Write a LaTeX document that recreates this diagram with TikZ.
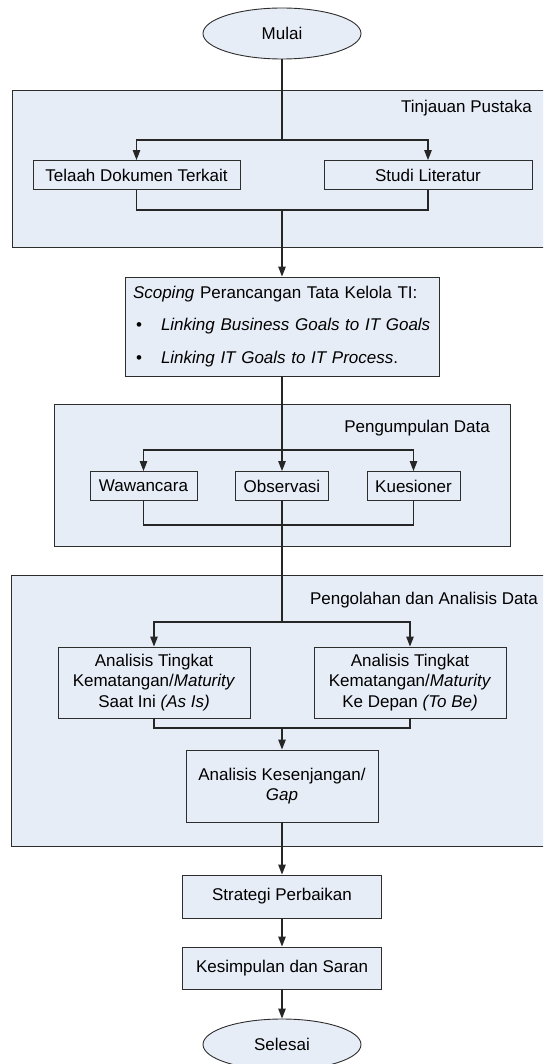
\documentclass[tikz,border=0pt]{standalone}
\usepackage{fontspec}
\setmainfont{Liberation Sans}
\usetikzlibrary{shapes.geometric,arrows.meta}

\definecolor{boxfill}{RGB}{231,237,247}
\definecolor{boxline}{RGB}{45,45,45}

\tikzset{
  basefont/.style={font=\fontsize{17}{20.5}\selectfont},
  groupbox/.style={draw=boxline, fill=boxfill, line width=0.9pt, anchor=north west, inner sep=0pt},
  grouplabel/.style={basefont, anchor=east, inner sep=0pt},
  stepbox/.style={draw=boxline, fill=boxfill, line width=0.9pt, basefont, align=center, inner sep=2pt},
  terminal/.style={ellipse, draw=boxline, fill=boxfill, line width=0.9pt, basefont,
                   minimum width=158pt, minimum height=51pt, inner sep=0pt},
  conn/.style={draw=black!85, line width=1.1pt},
  connarrow/.style={conn, -{Triangle[length=10pt,width=7.5pt]}},
}

\begin{document}
\begin{tikzpicture}[x=1pt, y=-1pt]
  \useasboundingbox (0,0) rectangle (543,1064);
  \clip (0,0) rectangle (543,1064);

  % phase panels
  \node[groupbox, minimum width=540pt, minimum height=157pt] (tp) at (12,90) {};
  \node[groupbox, minimum width=456pt, minimum height=142pt] (pd) at (54,404) {};
  \node[groupbox, minimum width=547pt, minimum height=271pt] (pa) at (11,575) {};

  \node[grouplabel] (tpLabel) at (532,108) {Tinjauan Pustaka};
  \node[grouplabel] (pdLabel) at (490,428) {Pengumpulan Data};
  \node[grouplabel] (paLabel) at (538,600) {Pengolahan dan Analisis Data};

  % start / end
  \node[terminal] (mulai) at (282,33.5) {Mulai};
  \node[terminal] (selesai) at (282,1044.5) {Selesai};

  % literature review
  \node[stepbox, minimum width=207pt, minimum height=29pt] (telaah) at (136.5,175) {Telaah Dokumen Terkait};
  \node[stepbox, minimum width=208pt, minimum height=29pt] (studi) at (428,175) {Studi Literatur};

  % scoping
  \node[draw=boxline, fill=boxfill, line width=0.9pt, font=\fontsize{17}{32.5}\selectfont,
        align=left, text width=298pt, inner xsep=8pt, inner ysep=2pt,
        minimum height=99pt] (scoping) at (282,326.5)
    {\textit{Scoping} Perancangan Tata Kelola TI:\\
     \hspace*{3pt}\makebox[25pt][l]{•}\textit{Linking Business Goals to IT Goals}\\
     \hspace*{3pt}\makebox[25pt][l]{•}\textit{Linking IT Goals to IT Process}.};

  % data collection
  \node[stepbox, minimum width=107pt, minimum height=29pt] (wawancara) at (143.5,486) {Wawancara};
  \node[stepbox, minimum width=93pt, minimum height=29pt] (observasi) at (282,486) {Observasi};
  \node[stepbox, minimum width=93pt, minimum height=29pt] (kuesioner) at (413.5,486) {Kuesioner};

  % processing and analysis
  \node[stepbox, minimum width=192pt, minimum height=71pt] (asis) at (154,682.5)
    {Analisis Tingkat\\Kematangan/\textit{Maturity}\\Saat Ini \textit{(As Is)}};
  \node[stepbox, minimum width=192pt, minimum height=71pt] (tobe) at (410,682.5)
    {Analisis Tingkat\\Kematangan/\textit{Maturity}\\Ke Depan \textit{(To Be)}};
  \node[stepbox, minimum width=192pt, minimum height=72pt] (gap) at (282,786)
    {Analisis Kesenjangan/\\\textit{Gap}};

  % closing steps
  \node[stepbox, minimum width=199pt, minimum height=43pt] (strategi) at (282,896.5) {Strategi Perbaikan};
  \node[stepbox, minimum width=199pt, minimum height=42pt] (kesimpulan) at (282,968) {Kesimpulan dan Saran};

  % flow
  \coordinate (tpFork) at (282,140);
  \coordinate (tpJoin) at (282,210);
  \draw[conn] (mulai.south) -- (tpFork);
  \draw[connarrow] (tpFork) -| (telaah.north);
  \draw[connarrow] (tpFork) -| (studi.north);
  \draw[conn] (telaah.south) |- (tpJoin) -| (studi.south);
  \draw[connarrow] (tpJoin) -- (scoping.north);

  \coordinate (pdFork) at (282,450);
  \coordinate (pdJoin) at (282,525);
  \draw[conn] (scoping.south) -- (pdFork);
  \draw[connarrow] (pdFork) -- (observasi.north);
  \draw[connarrow] (pdFork) -| (wawancara.north);
  \draw[connarrow] (pdFork) -| (kuesioner.north);
  \draw[conn] (wawancara.south) |- (pdJoin) -| (kuesioner.south);

  \coordinate (paFork) at (282,622);
  \coordinate (paJoin) at (282,728);
  \draw[conn] (observasi.south) -- (paFork);
  \draw[connarrow] (paFork) -| (asis.north);
  \draw[connarrow] (paFork) -| (tobe.north);
  \draw[conn] (asis.south) |- (paJoin) -| (tobe.south);
  \draw[connarrow] (paJoin) -- (gap.north);

  \draw[connarrow] (gap.south) -- (strategi.north);
  \draw[connarrow] (strategi.south) -- (kesimpulan.north);
  \draw[connarrow] (kesimpulan.south) -- (selesai.north);
\end{tikzpicture}
\end{document}
